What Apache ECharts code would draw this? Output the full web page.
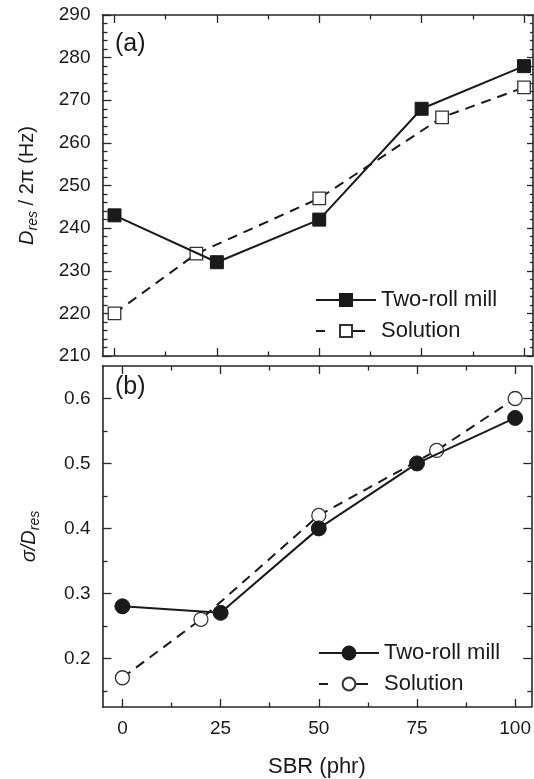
<!DOCTYPE html>
<html>
<head>
<meta charset="utf-8">
<script src="https://cdn.jsdelivr.net/npm/echarts@6/dist/echarts.min.js"></script>
<style>html,body{margin:0;padding:0;background:#fff}#c{width:534px;height:779px}</style>
</head>
<body>
<div id="c"></div>
<script>
// ---- data ----
var sbrMill = [0, 25, 50, 75, 100];
var sbrSolution = [0, 20, 50, 80, 100];
var dresMill = [243, 232, 242, 268, 278];
var dresSolution = [220, 234, 247, 266, 273];
var sigmaMill = [0.28, 0.27, 0.40, 0.50, 0.57];
var sigmaSolution = [0.17, 0.26, 0.42, 0.52, 0.60];
var xTickLabels = [0, 25, 50, 75, 100];
var xMinorTicks = [12.5, 37.5, 62.5, 87.5];
var dresTicks = [210, 220, 230, 240, 250, 260, 270, 280, 290];
var sigmaTicks = [0.2, 0.3, 0.4, 0.5, 0.6];
var sigmaMinorTicks = [0.15, 0.25, 0.35, 0.45, 0.55];
var seriesNames = ['Two-roll mill', 'Solution'];

function pairs(xs, ys) { return xs.map(function (x, i) { return [x, ys[i]]; }); }

var FONT = 'Liberation Sans, Arial, sans-serif';
var INK = '#1a1a1a';
var AX = '#262626';

var G = [
  { left: 102.5, top: 15, width: 430.5, height: 341 },
  { left: 102.5, top: 366, width: 430.5, height: 342 }
];
var XR = [[-2.93, 102.2], [-5.07, 104.1]];
var YR = [[210, 290], [0.125, 0.65]];

var xAxes = [], yAxes = [];
function frameX(g, pos, customMajor, customMinor, showLabels, name) {
  var base = {
    type: 'value', gridIndex: g, position: pos, min: XR[g][0], max: XR[g][1],
    splitLine: { show: false }, scale: false
  };
  xAxes.push(Object.assign({}, base, {
    axisLine: { show: true, onZero: false, lineStyle: { color: AX, width: 1.6 } },
    axisTick: { show: true, inside: true, length: 8, customValues: customMajor, lineStyle: { color: AX, width: 1.3 } },
    axisLabel: showLabels ? { show: true, customValues: customMajor, margin: 12, fontSize: 19, color: INK, fontFamily: FONT } : { show: false },
    name: name || '', nameLocation: 'middle', nameGap: 49,
    nameTextStyle: { fontSize: 22, color: INK, fontFamily: FONT }
  }));
  xAxes.push(Object.assign({}, base, {
    axisLine: { show: false, onZero: false },
    axisTick: { show: true, inside: true, length: 4.5, customValues: customMinor, lineStyle: { color: AX, width: 1.3 } },
    axisLabel: { show: false }
  }));
}
function frameY(g, pos, customMajor, customMinor, showLabels, name, majorLen, minorLen, gap) {
  var base = {
    type: 'value', gridIndex: g, position: pos, min: YR[g][0], max: YR[g][1],
    splitLine: { show: false }
  };
  yAxes.push(Object.assign({}, base, {
    axisLine: { show: true, onZero: false, lineStyle: { color: AX, width: 1.6 } },
    axisTick: { show: true, inside: true, length: majorLen, customValues: customMajor, lineStyle: { color: AX, width: 1.3 } },
    axisLabel: showLabels ? { show: true, customValues: customMajor, margin: 12, fontSize: 19, color: INK, fontFamily: FONT } : { show: false },
    name: name || '', nameLocation: 'middle', nameRotate: 90, nameGap: gap || 63,
    nameTextStyle: {
      fontSize: 20, color: INK, fontFamily: FONT,
      rich: {
        i: { fontSize: 20, fontStyle: 'italic', color: INK, fontFamily: FONT },
        sub: { fontSize: 14, fontStyle: 'italic', color: INK, fontFamily: FONT, padding: [12, 0, 0, 0] },
        n: { fontSize: 20, color: INK, fontFamily: FONT }
      }
    }
  }));
  yAxes.push(Object.assign({}, base, {
    axisLine: { show: false, onZero: false },
    axisTick: { show: true, inside: true, length: minorLen, customValues: customMinor, lineStyle: { color: AX, width: 1.3 } },
    axisLabel: { show: false }
  }));
}

var dresMinor = [];
for (var v = 212; v < 290; v += 2) { if (v % 10 !== 0) dresMinor.push(v); }

// grid 0 (a)
frameX(0, 'bottom', xTickLabels, xMinorTicks, false);   // 0,1
frameX(0, 'top', xTickLabels, xMinorTicks, false);      // 2,3
frameY(0, 'left', dresTicks, dresMinor, true, '{i|D}{sub|res}{n| / 2π (Hz)}', 9, 5, 62);  // 0,1
frameY(0, 'right', dresTicks, dresMinor, false, '', 6, 3);                      // 2,3
// grid 1 (b)
frameX(1, 'bottom', xTickLabels, xMinorTicks, true, 'SBR (phr)'); // 4,5
frameX(1, 'top', xTickLabels, xMinorTicks, false);                // 6,7
frameY(1, 'left', sigmaTicks, sigmaMinorTicks, true, '{i|σ/D}{sub|res}', 9, 5, 60); // 4,5
frameY(1, 'right', sigmaTicks, sigmaMinorTicks, false, '', 8, 4);                // 6,7

function lineSeries(id, xi, yi, data, symbol, size, filled, dashed) {
  return {
    type: 'line', name: id, xAxisIndex: xi, yAxisIndex: yi, data: data,
    symbol: symbol, symbolSize: size, showSymbol: true, animation: false,
    lineStyle: { color: INK, width: 2, type: dashed ? [10, 7] : 'solid' },
    itemStyle: filled ? { color: INK, borderColor: INK, borderWidth: 1 } : { color: '#fff', borderColor: '#333', borderWidth: 1.3 },
    z: filled ? 3 : 2
  };
}

var series = [
  lineSeries('a:' + seriesNames[0], 0, 0, pairs(sbrMill, dresMill), 'rect', 13, true, false),
  lineSeries('a:' + seriesNames[1], 0, 0, pairs(sbrSolution, dresSolution), 'rect', 12.5, false, true),
  lineSeries('b:' + seriesNames[0], 4, 4, pairs(sbrMill, sigmaMill), 'circle', 15, true, false),
  lineSeries('b:' + seriesNames[1], 4, 4, pairs(sbrSolution, sigmaSolution), 'circle', 14, false, true)
];

function legendFor(prefix, left, top, ih) {
  return {
    data: [
      { name: prefix + seriesNames[0] },
      { name: prefix + seriesNames[1], lineStyle: { type: [9, 28, 12, 20], width: 2 } }
    ],
    orient: 'vertical', left: left, top: top, padding: 0,
    itemWidth: 60, itemHeight: ih, itemGap: 9,
    selectedMode: false,
    formatter: function (n) { return n.slice(2); },
    textStyle: { fontSize: 22, lineHeight: 22, color: INK, fontFamily: FONT }
  };
}

var chart = echarts.init(document.getElementById('c'), null, { renderer: 'canvas' });
chart.setOption({
  backgroundColor: '#fff',
  animation: false,
  grid: G,
  xAxis: xAxes,
  yAxis: yAxes,
  legend: [legendFor('a:', 315, 289, 15), legendFor('b:', 318, 642, 16)],
  title: [
    { text: '(a)', left: 115, top: 32, padding: 0, textStyle: { fontSize: 25, fontWeight: 'normal', color: INK, fontFamily: FONT } },
    { text: '(b)', left: 115, top: 375, padding: 0, textStyle: { fontSize: 25, fontWeight: 'normal', color: INK, fontFamily: FONT } }
  ],
  series: series
});
</script>
</body>
</html>
